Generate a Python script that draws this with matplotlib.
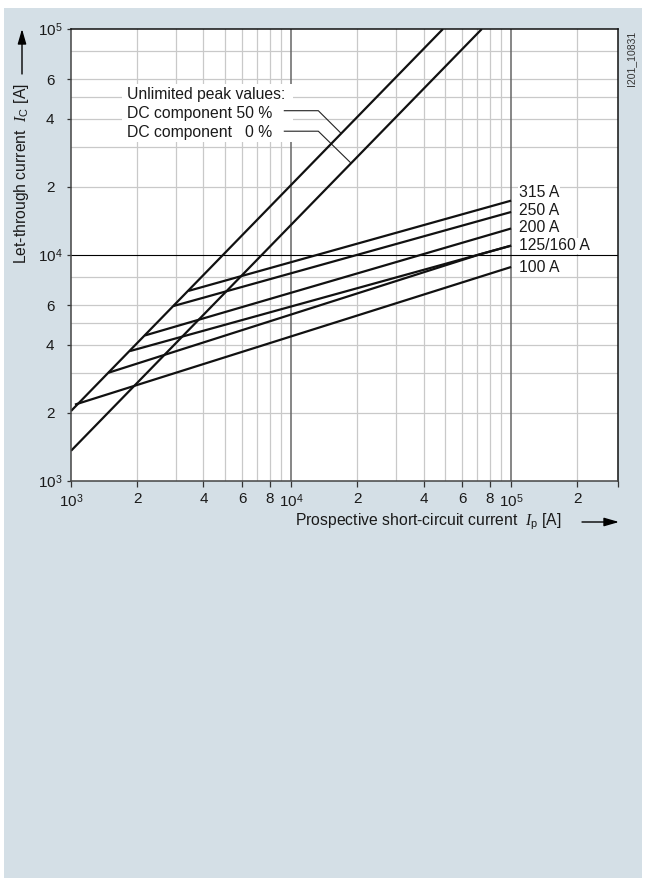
import matplotlib
matplotlib.use("Agg")
import matplotlib.pyplot as plt
from matplotlib.patches import Rectangle, FancyArrowPatch

plt.rcParams['font.family'] = ['Liberation Sans', 'DejaVu Sans']
plt.rcParams['mathtext.fontset'] = 'custom'
plt.rcParams['mathtext.rm'] = 'Liberation Sans'
plt.rcParams['mathtext.it'] = 'Liberation Serif:italic'
plt.rcParams['mathtext.bf'] = 'Liberation Sans:bold'

# unlimited peak values (DC component 50 % / 0 %)
dc50_x = [1e3, 4.9e4]
dc50_y = [2.04e3, 1e5]
dc0_x = [1e3, 7.36e4]
dc0_y = [1.36e3, 1e5]

# let-through curves of the fuse links
fuse_names = ["100 A", "125 A", "160 A", "200 A", "250 A", "315 A"]
fuse_x = [[1042, 1e5], [1479, 7.2e4, 1e5], [1854, 1e5], [2168, 1e5], [2917, 1e5], [3412, 1e5]]
fuse_y = [[2178, 8850], [3013, 1.006e4, 1.10e4], [3758, 1.10e4], [4406, 1.31e4], [5943, 1.55e4], [6934, 1.74e4]]

# labels at the right end of the curves
end_labels = ["315 A", "250 A", "200 A", "125/160 A", "100 A"]
end_label_y = [1.886e4, 1.573e4, 1.318e4, 1.10e4, 8.78e3]
end_label_x = 1.087e5

# leader lines of the "unlimited peak values" note
lead50_x = [9.32e3, 1.33e4, 1.69e4]
lead50_y = [4.35e4, 4.35e4, 3.45e4]
lead0_x = [9.32e3, 1.33e4, 1.865e4]
lead0_y = [3.53e4, 3.53e4, 2.56e4]

xticks = [1e3, 2e3, 4e3, 6e3, 8e3, 1e4, 2e4, 4e4, 6e4, 8e4, 1e5, 2e5, 3.06e5]
xticklabels = ["$10^3$", "2", "4", "6", "8", "$10^4$", "2", "4", "6", "8", "$10^5$", "2", ""]
yticks = [1e3, 2e3, 4e3, 6e3, 1e4, 2e4, 4e4, 6e4, 1e5]
yticklabels = ["$10^3$", "2", "4", "6", "$10^4$", "2", "4", "6", "$10^5$"]

W, H = 645, 880
fig = plt.figure(figsize=(W / 100, H / 100), dpi=100, facecolor='white')

# light blue panel behind the chart
fig.add_artist(Rectangle((4 / W, 2 / H), 638 / W, 870 / H, transform=fig.transFigure,
                         facecolor='#d4dfe6', edgecolor='none', zorder=-10))

ax = fig.add_axes([71 / W, 1 - 481 / H, 547 / W, 452 / H])
ax.set_facecolor('white')
ax.set_xscale('log')
ax.set_yscale('log')
ax.set_xlim(1e3, 3.06e5)
ax.set_ylim(1e3, 1e5)

# grid
for d in [1e3, 1e4, 1e5]:
    for m in range(2, 10):
        if m * d < 3.0e5:
            ax.axvline(m * d, color='#c9c9c9', lw=0.9, zorder=1)
for d in [1e3, 1e4]:
    for m in [2, 3, 4, 5, 6, 8]:
        ax.axhline(m * d, color='#c9c9c9', lw=0.9, zorder=1)
for v in [1e4, 1e5]:
    ax.axvline(v, color='#666666', lw=1.1, zorder=1.5)
ax.axhline(1e4, color='black', lw=0.8, zorder=1.5)

# white box behind the note
ax.add_patch(Rectangle((0.093, 0.75), 0.313, 0.128, transform=ax.transAxes,
                       facecolor='white', edgecolor='none', zorder=2))

lw = 1.6
ax.plot(dc50_x, dc50_y, color='#111111', lw=lw, zorder=4, solid_capstyle='butt')
ax.plot(dc0_x, dc0_y, color='#111111', lw=lw, zorder=4, solid_capstyle='butt')
for xs, ys in zip(fuse_x, fuse_y):
    ax.plot(xs, ys, color='#111111', lw=lw, zorder=4, solid_capstyle='butt')

ax.plot(lead50_x, lead50_y, color='#222222', lw=0.8, zorder=3)
ax.plot(lead0_x, lead0_y, color='#222222', lw=0.8, zorder=3)

fs = 11.3
tfs = 11
tc = '#1a1a1a'
for t, y in zip(end_labels, end_label_y):
    ax.text(end_label_x, y, t, fontsize=fs, color=tc, ha='left', va='center',
            bbox=dict(facecolor='white', edgecolor='none', pad=0.5), zorder=5)

ax.text(0.1024, 0.854, "Unlimited peak values:", transform=ax.transAxes,
        fontsize=fs, color=tc, ha='left', va='center', zorder=5)
t50 = ax.text(0.1024, 0.814, "DC component 50 %", transform=ax.transAxes,
              fontsize=fs, color=tc, ha='left', va='center', zorder=5)
ax.text(0.1024, 0.772, "DC component", transform=ax.transAxes,
        fontsize=fs, color=tc, ha='left', va='center', zorder=5)
fig.canvas.draw()
bb = t50.get_window_extent()
right = ax.transAxes.inverted().transform((bb.x1, bb.y0))[0]
ax.text(right, 0.772, "0 %", transform=ax.transAxes,
        fontsize=fs, color=tc, ha='right', va='center', zorder=5)

# ticks
ax.minorticks_off()
ax.set_xticks(xticks)
ax.set_xticklabels(xticklabels)
ax.set_yticks(yticks)
ax.set_yticklabels(yticklabels)
ax.tick_params(axis='x', direction='out', length=4, width=0.9, color='#333333',
               labelsize=tfs, labelcolor=tc, pad=4)
ax.tick_params(axis='y', direction='out', length=3, width=0.9, color='#333333',
               labelsize=tfs, labelcolor=tc, pad=12)
for lab in ax.get_yticklabels():
    lab.set_horizontalalignment('center')

for side in ['left', 'bottom']:
    ax.spines[side].set_color('#444444')
    ax.spines[side].set_linewidth(1.1)
for side in ['top', 'right']:
    ax.spines[side].set_color('#111111')
    ax.spines[side].set_linewidth(1.1)
for s in ax.spines.values():
    s.set_zorder(6)

# axis titles with arrows
arrow_style = '-|>,head_length=9,head_width=2.6'
fig.text(22 / W, 1 - 174 / H, r"Let-through current  $I_\mathrm{C}$ [A]", rotation=90,
         fontsize=fs, color=tc, ha='center', va='center')
fig.add_artist(FancyArrowPatch((22 / W, 1 - 74 / H), (22 / W, 1 - 29 / H),
                               transform=fig.transFigure, arrowstyle=arrow_style,
                               color='black', lw=1.0, shrinkA=0, shrinkB=0))
fig.text(295 / W, 1 - 522 / H, r"Prospective short-circuit current  $I_\mathrm{p}$ [A]",
         fontsize=fs, color=tc, ha='left', va='center')
fig.add_artist(FancyArrowPatch((582 / W, 1 - 522 / H), (619 / W, 1 - 522 / H),
                               transform=fig.transFigure, arrowstyle=arrow_style,
                               color='black', lw=1.0, shrinkA=0, shrinkB=0))

fig.text(631 / W, 1 - 58 / H, "I201_10831", rotation=90, fontsize=7.5, color='#333333',
         ha='center', va='center')

fig.savefig("out.png", dpi=100, facecolor='white')
